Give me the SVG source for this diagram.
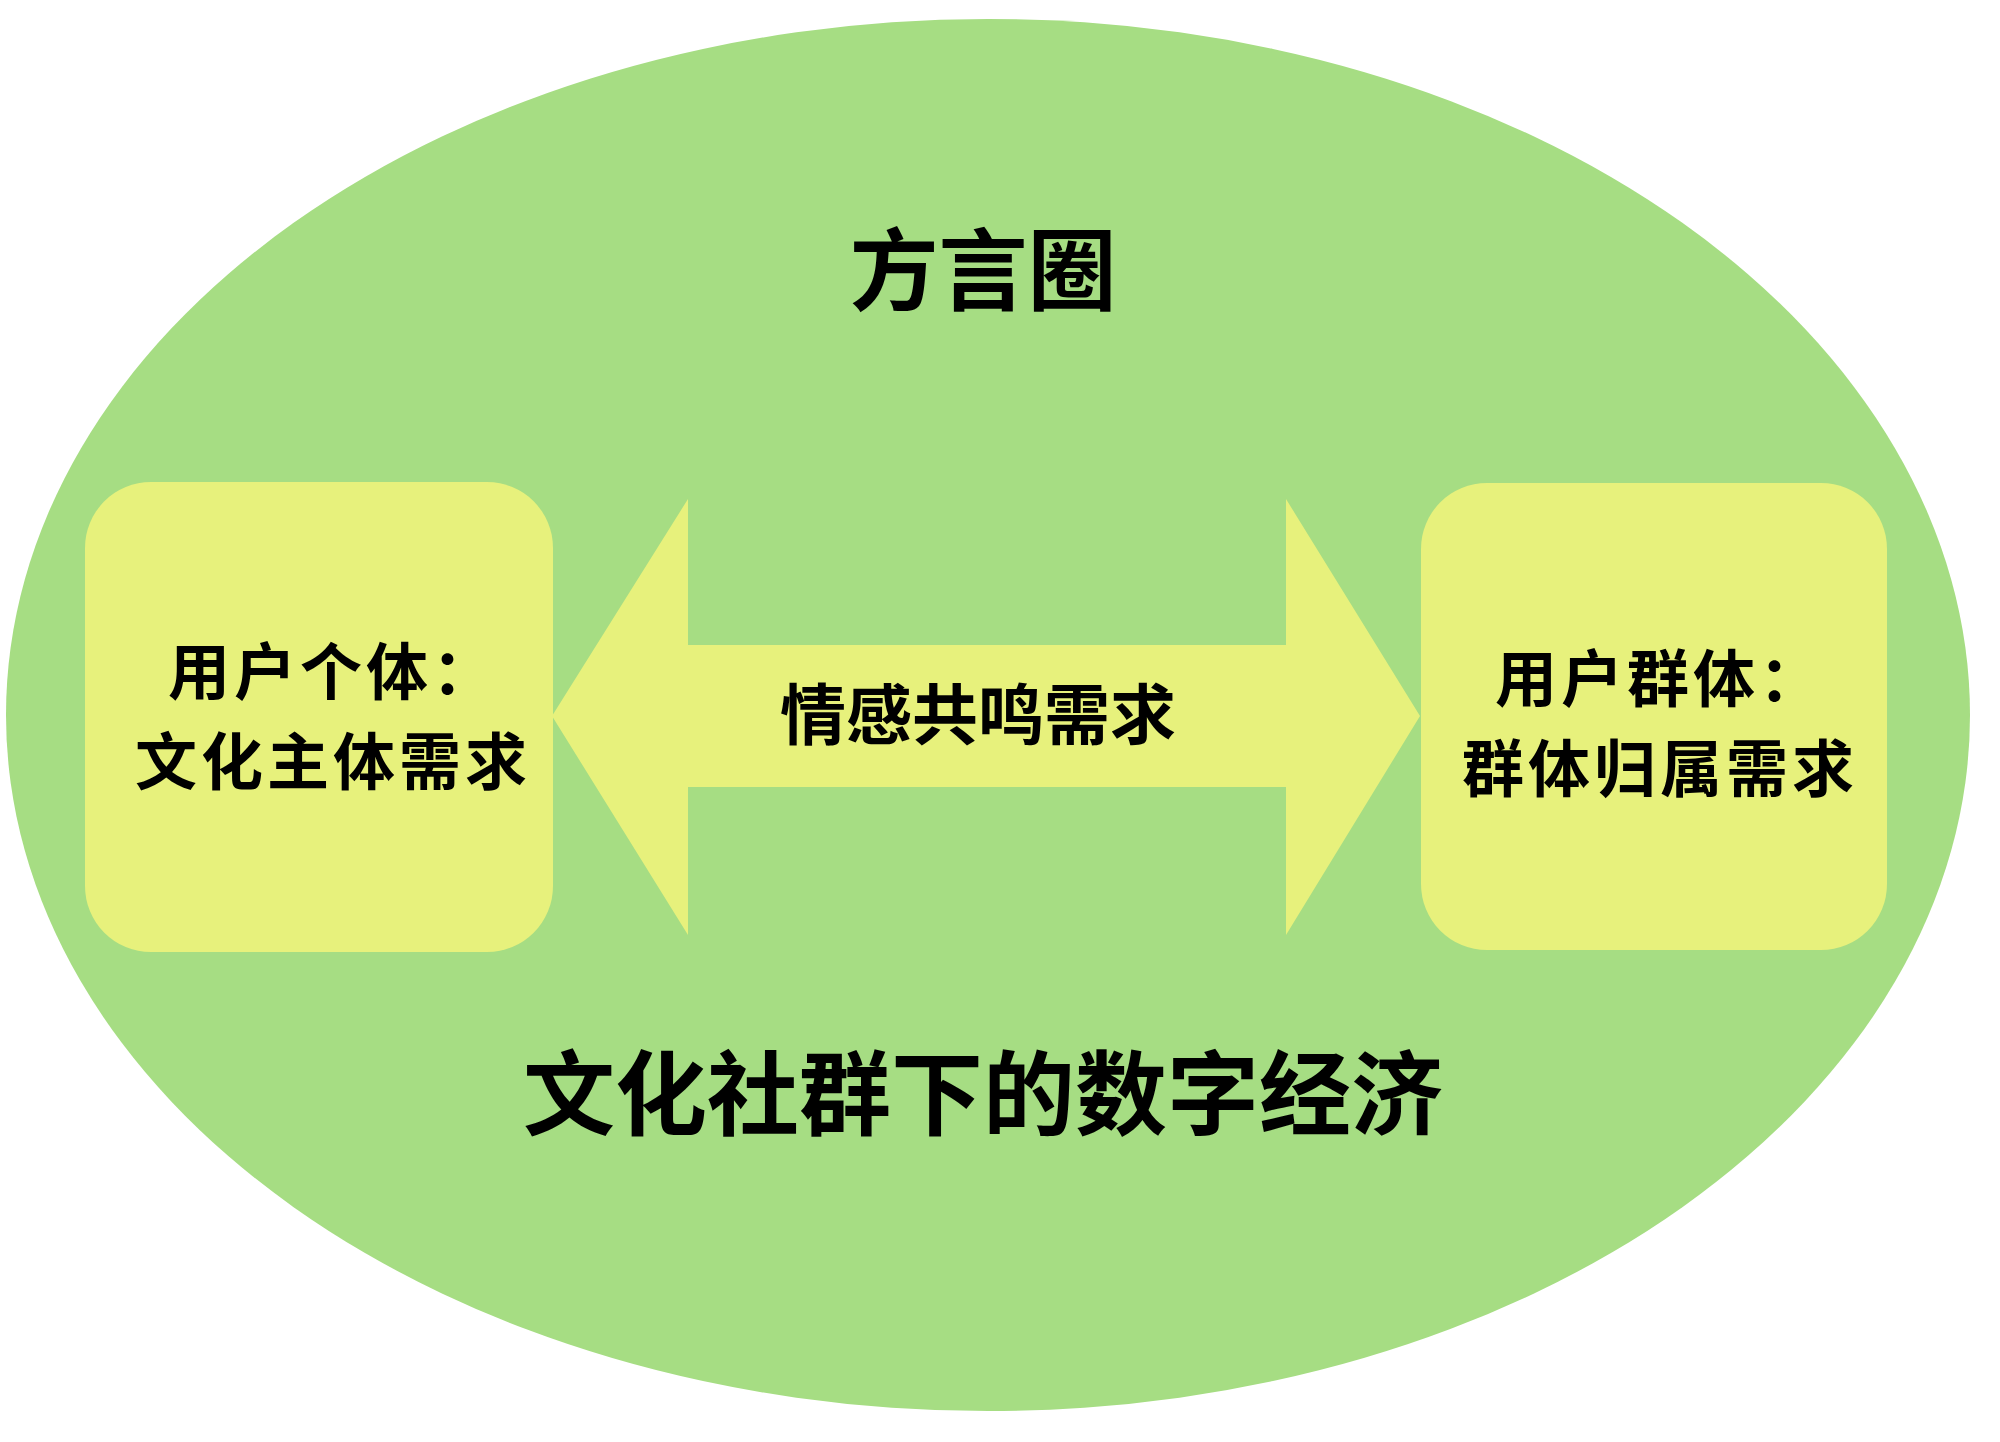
<svg xmlns="http://www.w3.org/2000/svg" width="2000" height="1442" viewBox="0 0 2000 1442">
<style>
.bg{fill:#a6dd83}
.box{fill:#e7f17c}
.t{font-family:"Noto Sans CJK SC","Noto Sans CJK TC",sans-serif;font-weight:bold;fill:#000;text-anchor:middle}
.s{font-size:62px;letter-spacing:4px}
</style>
<rect width="2000" height="1442" fill="#ffffff"/>
<g id="circle">
<ellipse class="bg" cx="988" cy="715" rx="982" ry="696"/>
<text class="t" x="983" y="303" font-size="89">方言圈</text>
<text class="t" x="983" y="1128" font-size="92">文化社群下的数字经济</text>
</g>
<g id="connectors">
<path class="box" d="M552,716 L688,499 L688,645 L1286,645 L1286,499 L1420,716 L1286,935 L1286,787 L688,787 L688,935 Z"/>
<text class="t" x="978" y="739" font-size="66">情感共鸣需求</text>
</g>
<g id="left">
<rect class="box" x="85" y="482" width="468" height="470" rx="66"/>
<text class="t s"><tspan x="333" y="695">用户个体：</tspan><tspan x="333" y="785">文化主体需求</tspan></text>
</g>
<g id="right">
<rect class="box" x="1421" y="483" width="466" height="467" rx="66"/>
<text class="t s"><tspan x="1660" y="702">用户群体：</tspan><tspan x="1660" y="792">群体归属需求</tspan></text>
</g>
</svg>
